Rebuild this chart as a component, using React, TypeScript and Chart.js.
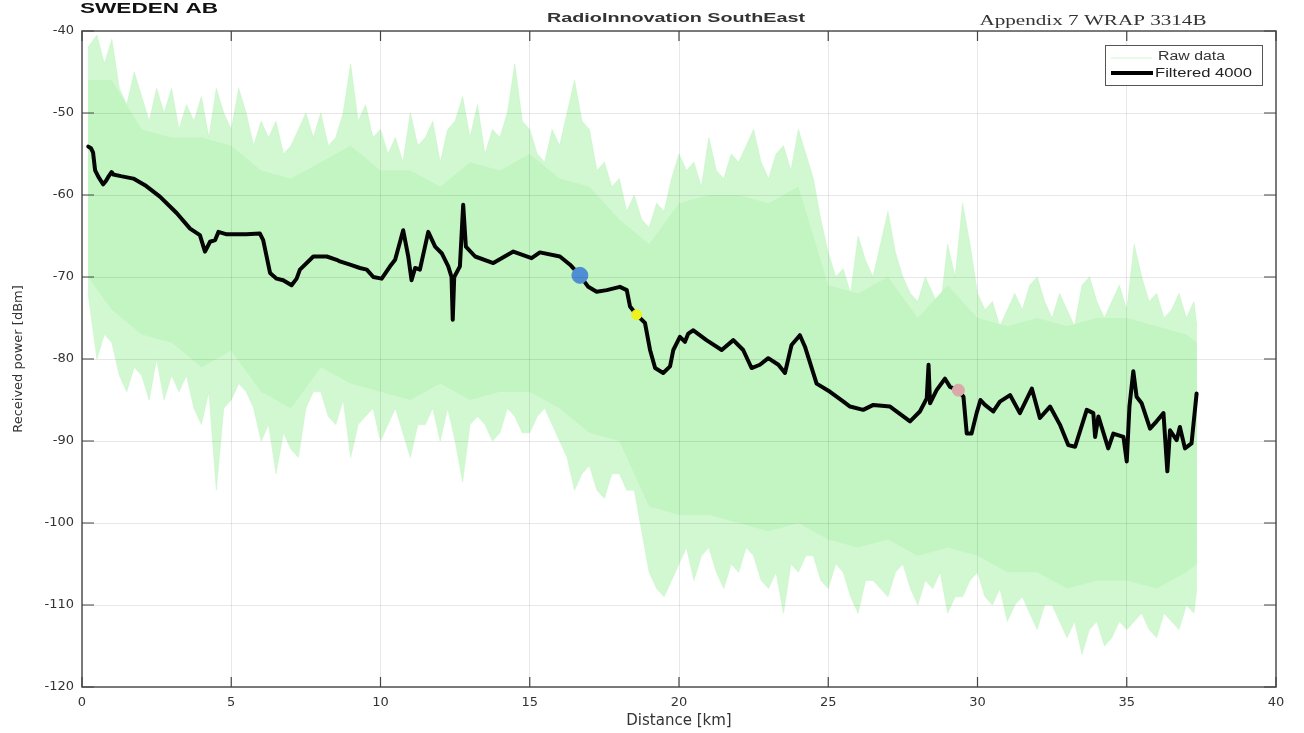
import React, { useEffect, useRef } from "react";
import { Chart, registerables } from "chart.js";

Chart.register(...registerables);

// ---- Axis ticks ----
const xTickValues = [0, 5, 10, 15, 20, 25, 30, 35, 40];
const yTickValues = [-120, -110, -100, -90, -80, -70, -60, -50, -40];

// ---- Raw data (outer spiky envelope) ----
const rawKm = [
  0.2, 0.5, 0.75, 1, 1.25, 1.5, 1.75, 2, 2.25, 2.5,
  2.75, 3, 3.25, 3.5, 3.75, 4, 4.25, 4.5, 4.75, 5,
  5.25, 5.5, 5.75, 6, 6.25, 6.5, 6.75, 7, 7.25, 7.5,
  7.75, 8, 8.25, 8.5, 8.75, 9, 9.25, 9.5, 9.75, 10,
  10.25, 10.5, 10.75, 11, 11.25, 11.5, 11.75, 12, 12.25, 12.5,
  12.75, 13, 13.25, 13.5, 13.75, 14, 14.25, 14.5, 14.75, 15,
  15.25, 15.5, 15.75, 16, 16.25, 16.5, 16.75, 17, 17.25, 17.5,
  17.75, 18, 18.25, 18.5, 18.75, 19, 19.25, 19.5, 19.75, 20,
  20.25, 20.5, 20.75, 21, 21.25, 21.5, 21.75, 22, 22.25, 22.5,
  22.75, 23, 23.25, 23.5, 23.75, 24, 24.25, 24.5, 24.75, 25,
  25.25, 25.5, 25.75, 26, 26.25, 26.5, 26.75, 27, 27.25, 27.5,
  27.75, 28, 28.25, 28.5, 28.75, 29, 29.25, 29.5, 29.75, 30,
  30.25, 30.5, 30.75, 31, 31.25, 31.5, 31.75, 32, 32.25, 32.5,
  32.75, 33, 33.25, 33.5, 33.75, 34, 34.25, 34.5, 34.75, 35,
  35.25, 35.5, 35.75, 36, 36.25, 36.5, 36.75, 37, 37.25, 37.35,
];
const rawUpper = [
  -42, -40.5, -44, -41, -47, -49, -45, -48, -51, -47,
  -50, -47, -52, -49, -51, -48, -53, -47, -50, -52,
  -47, -50, -54, -51, -53, -51, -55, -54, -52, -50,
  -53, -50, -54, -53, -50, -44, -51, -49, -53, -52,
  -55, -53, -56, -50, -54, -53, -51, -56, -52, -51,
  -48, -53, -49, -55, -52, -53, -50, -44, -51, -52,
  -55, -56, -52, -54, -50, -46, -51, -52, -57, -56,
  -59, -58, -62, -60, -63, -64, -61, -62, -58, -55,
  -57, -56, -59, -53, -57, -58, -55, -56, -54, -52,
  -56, -58, -55, -54, -57, -52, -55, -58, -63, -67,
  -70, -69, -72, -65, -68, -70, -66, -62, -67, -70,
  -72, -73, -70, -72, -74, -66, -70, -61, -66, -72,
  -74, -73, -76, -74, -72, -74, -71, -70, -73, -75,
  -72, -74, -76, -71, -70, -73, -75, -73, -71, -74,
  -66, -70, -73, -72, -75, -74, -72, -75, -73, -76,
];
const rawLower = [
  -72, -80, -77, -78, -82, -84, -81, -82, -85, -80,
  -85, -82, -84, -82, -86, -88, -84, -96, -86, -85,
  -83, -84, -86, -90, -88, -94, -89, -91, -92, -86,
  -84, -84, -87, -88, -85, -92, -88, -87, -86, -90,
  -88, -86, -89, -92, -88, -88, -86, -90, -86, -90,
  -95, -88, -87, -88, -90, -89, -86, -87, -89, -89,
  -87, -86, -88, -90, -92, -96, -94, -93, -96, -97,
  -94, -94, -96, -96, -101, -106, -108, -109, -107, -105,
  -103, -107, -104, -103, -106, -108, -105, -106, -103, -104,
  -107, -108, -106, -111, -105, -106, -104, -104, -107, -108,
  -105, -106, -109, -111, -107, -107, -108, -109, -106, -105,
  -108, -110, -107, -108, -106, -111, -109, -109, -107, -106,
  -109, -110, -108, -112, -110, -109, -111, -113, -110, -110,
  -112, -114, -112, -116, -113, -112, -115, -114, -112, -113,
  -112, -111, -113, -114, -111, -112, -113, -110, -111, -108,
];

// ---- Raw data (dense core) ----
const coreKm = [
  0.2, 1, 2, 3, 4, 5, 6, 7, 8, 9, 10, 11, 12, 13, 14, 15, 16, 17, 18, 19,
  20, 21, 22, 23, 24, 25, 26, 27, 28, 29, 30, 31, 32, 33, 34, 35, 36, 37, 37.35,
];
const coreUpper = [
  -46, -46, -52, -53, -53, -54, -57, -58, -56, -54, -57, -57, -59, -56, -57, -55, -58, -59, -63, -66,
  -61, -60, -60, -61, -59, -71, -72, -70, -75, -71, -75, -76, -75, -76, -75, -75, -76, -77, -78,
];
const coreLower = [
  -70, -74, -77, -78, -81, -79, -84, -86, -81, -83, -84, -85, -83, -85, -84, -84, -86, -89, -90, -98,
  -99, -99, -100, -101, -100, -102, -103, -102, -104, -103, -104, -106, -106, -108, -107, -107, -108, -106, -105,
];

// ---- Filtered 4000 ----
const filteredKm = [
  0.21, 0.3, 0.37, 0.44, 0.55, 0.71, 0.8, 0.88, 0.99, 1.05, 1.3, 1.72, 2.11, 2.61, 3.17, 3.62, 3.95, 4.12, 4.29, 4.46,
  4.57, 4.85, 5.5, 5.96, 6.07, 6.3, 6.52, 6.74, 7.02, 7.19, 7.3, 7.75, 8.2, 8.53, 8.64, 8.98, 9.31, 9.54, 9.76, 10.04,
  10.32, 10.49, 10.76, 10.93, 11.04, 11.16, 11.32, 11.6, 11.83, 12.05, 12.27, 12.38, 12.42, 12.47, 12.66, 12.77, 12.86, 13.17, 13.78, 14.45,
  15.06, 15.34, 16.01, 16.35, 16.68, 16.96, 17.24, 17.58, 18.02, 18.25, 18.36, 18.58, 18.86, 19.03, 19.2, 19.47, 19.7, 19.81, 20.03, 20.2,
  20.31, 20.48, 20.92, 21.43, 21.82, 22.15, 22.43, 22.71, 22.99, 23.33, 23.55, 23.77, 24.05, 24.22, 24.61, 25.06, 25.51, 25.73, 26.17, 26.51,
  27.07, 27.74, 28.07, 28.3, 28.36, 28.41, 28.63, 28.91, 29.08, 29.36, 29.53, 29.64, 29.8, 29.97, 30.1, 30.25, 30.53, 30.75, 31.09, 31.42,
  31.82, 32.09, 32.43, 32.76, 33.04, 33.27, 33.66, 33.88, 33.94, 34.05, 34.38, 34.55, 34.89, 35.0, 35.09, 35.22, 35.33, 35.5, 35.78, 36.0,
  36.23, 36.36, 36.45, 36.67, 36.78, 36.95, 37.17, 37.34,
];
const filteredDbm = [
  -54.1, -54.3, -54.8, -57.0, -57.8, -58.7, -58.3, -57.8, -57.2, -57.5, -57.7, -58.0, -58.8, -60.2, -62.2, -64.1, -64.9, -66.9, -65.7, -65.5,
  -64.5, -64.8, -64.8, -64.7, -65.5, -69.5, -70.2, -70.4, -71.0, -70.2, -69.1, -67.5, -67.5, -67.9, -68.1, -68.5, -68.9, -69.1, -70.0, -70.2,
  -68.7, -67.9, -64.3, -67.5, -70.4, -68.9, -69.1, -64.5, -66.3, -67.1, -68.7, -70.0, -75.2, -70.0, -68.7, -61.2, -66.3, -67.5, -68.3, -66.9,
  -67.7, -67.0, -67.5, -68.5, -69.8, -71.2, -71.8, -71.6, -71.2, -71.6, -73.6, -74.6, -75.6, -78.9, -81.1, -81.7, -80.9, -78.9, -77.3, -77.9,
  -76.9, -76.5, -77.7, -78.9, -77.7, -78.9, -81.1, -80.7, -79.9, -80.7, -81.7, -78.3, -77.1, -78.5, -83.0, -84.0, -85.2, -85.8, -86.2, -85.6,
  -85.8, -87.6, -86.4, -84.8, -80.7, -85.4, -83.8, -82.4, -83.4, -83.8, -84.6, -89.1, -89.1, -86.6, -85.0, -85.6, -86.4, -85.2, -84.4, -86.6,
  -83.6, -87.2, -85.8, -88.0, -90.5, -90.7, -86.2, -86.6, -89.5, -87.0, -90.9, -89.1, -89.5, -92.5, -85.8, -81.5, -84.6, -85.4, -88.5, -87.6,
  -86.6, -93.7, -88.7, -89.9, -88.3, -90.9, -90.3, -84.2,
];

// ---- Site markers ----
const markerKm = [16.68, 18.58, 29.36];
const markerDbm = [-69.8, -74.6, -83.8];
const markerColors = ["#4f8ed2", "#eef21e", "#dba9a9"];
const markerRadius = [8, 5, 6];

function stretchText(
  ctx: CanvasRenderingContext2D,
  text: string,
  x: number,
  y: number,
  width: number,
  font: string,
  color: string,
  align: "left" | "center"
) {
  ctx.save();
  ctx.font = font;
  ctx.fillStyle = color;
  ctx.textBaseline = "middle";
  ctx.textAlign = "left";
  const w = ctx.measureText(text).width;
  const s = width / w;
  const left = align === "center" ? x - width / 2 : x;
  ctx.translate(left, y);
  ctx.scale(s, 1);
  ctx.fillText(text, 0, 0);
  ctx.restore();
}

const decorPlugin = {
  id: "decor",
  afterDraw(chart: any) {
    const { ctx, chartArea: a, scales } = chart;
    const xs = scales.x;
    const ys = scales.y;
    ctx.save();
    ctx.strokeStyle = "#5c5c5c";
    ctx.lineWidth = 1.6;
    ctx.strokeRect(a.left, a.top, a.right - a.left, a.bottom - a.top);
    ctx.strokeStyle = "#444";
    ctx.lineWidth = 1.2;
    ctx.beginPath();
    xs.ticks.forEach((t: any) => {
      const px = xs.getPixelForValue(t.value);
      ctx.moveTo(px, a.bottom);
      ctx.lineTo(px, a.bottom - 10);
      ctx.moveTo(px, a.top);
      ctx.lineTo(px, a.top + 10);
    });
    ys.ticks.forEach((t: any) => {
      const py = ys.getPixelForValue(t.value);
      ctx.moveTo(a.left, py);
      ctx.lineTo(a.left + 12, py);
      ctx.moveTo(a.right, py);
      ctx.lineTo(a.right - 12, py);
    });
    ctx.stroke();

    // legend
    const lx = 1105, ly = 45, lw = 157, lh = 40;
    ctx.fillStyle = "#ffffff";
    ctx.fillRect(lx, ly, lw, lh);
    ctx.strokeStyle = "#555";
    ctx.lineWidth = 1;
    ctx.strokeRect(lx + 0.5, ly + 0.5, lw, lh);
    ctx.strokeStyle = "#d4f4d4";
    ctx.lineWidth = 1;
    ctx.beginPath();
    ctx.moveTo(1111, 58);
    ctx.lineTo(1152, 58);
    ctx.stroke();
    ctx.strokeStyle = "#000";
    ctx.lineWidth = 4;
    ctx.beginPath();
    ctx.moveTo(1111, 73);
    ctx.lineTo(1153, 73);
    ctx.stroke();
    stretchText(ctx, "Raw data", 1158, 57, 67, "12px 'Liberation Sans', Arial, sans-serif", "#333", "left");
    stretchText(ctx, "Filtered 4000", 1155, 74, 97, "12px 'Liberation Sans', Arial, sans-serif", "#222", "left");

    // headings
    stretchText(ctx, "SWEDEN AB", 80, 9, 138, "bold 15px 'Liberation Sans', Arial, sans-serif", "#111", "left");
    stretchText(ctx, "RadioInnovation SouthEast", 676, 18, 258, "bold 13px 'Liberation Sans', Arial, sans-serif", "#333", "center");
    stretchText(ctx, "Appendix 7 WRAP 3314B", 1093, 21, 227, "15px 'Liberation Serif', 'Times New Roman', serif", "#333", "center");
    ctx.restore();
  },
};

export default function App() {
  const canvasRef = useRef<HTMLCanvasElement | null>(null);

  useEffect(() => {
    if (!canvasRef.current) return;
    const toXY = (xs: number[], ys: number[]) => xs.map((x, i) => ({ x, y: ys[i] }));
    const chart = new Chart(canvasRef.current, {
      type: "line",
      data: {
        datasets: [
          {
            label: "Raw data outer upper",
            data: toXY(rawKm, rawUpper),
            borderColor: "rgba(185,242,185,0.6)",
            borderWidth: 0.7,
            backgroundColor: "rgba(198,246,198,0.8)",
            fill: "+1",
            pointRadius: 0,
            tension: 0,
            order: 4,
          },
          {
            label: "Raw data outer lower",
            data: toXY(rawKm, rawLower),
            borderColor: "rgba(185,242,185,0.6)",
            borderWidth: 0.7,
            fill: false,
            pointRadius: 0,
            tension: 0,
            order: 4,
          },
          {
            label: "Raw data",
            data: toXY(coreKm, coreUpper),
            borderColor: "rgba(0,0,0,0)",
            borderWidth: 0,
            backgroundColor: "#c2f5c2",
            fill: "+1",
            pointRadius: 0,
            tension: 0,
            order: 3,
          },
          {
            label: "Raw data core lower",
            data: toXY(coreKm, coreLower),
            borderColor: "rgba(0,0,0,0)",
            borderWidth: 0,
            fill: false,
            pointRadius: 0,
            tension: 0,
            order: 3,
          },
          {
            label: "Filtered 4000",
            data: toXY(filteredKm, filteredDbm),
            borderColor: "#050505",
            borderWidth: 4,
            borderJoinStyle: "round",
            borderCapStyle: "round",
            fill: false,
            pointRadius: 0,
            tension: 0,
            order: 2,
          },
          {
            label: "Sites",
            data: toXY(markerKm, markerDbm),
            showLine: false,
            pointRadius: markerRadius,
            pointBackgroundColor: markerColors,
            pointBorderColor: markerColors,
            pointBorderWidth: 1,
            order: 1,
          },
        ],
      },
      options: {
        animation: false,
        responsive: true,
        maintainAspectRatio: false,
        layout: { padding: { left: 0, top: 31, right: 28, bottom: 0 } },
        plugins: {
          legend: { display: false },
          tooltip: { enabled: false },
          title: { display: false },
        },
        scales: {
          x: {
            type: "linear",
            min: 0,
            max: 40,
            afterBuildTicks: (scale: any) => {
              scale.ticks = xTickValues.map((v) => ({ value: v }));
            },
            afterFit: (scale: any) => {
              scale.height = 46;
            },
            grid: { color: "rgba(0,0,0,0.09)", lineWidth: 1, drawTicks: false, z: 1 },
            border: { display: false },
            ticks: {
              padding: 8,
              color: "#333",
              font: { family: "'DejaVu Sans', sans-serif", size: 13 },
              maxRotation: 0,
            },
            title: {
              display: true,
              text: "Distance [km]",
              color: "#333",
              font: { family: "'DejaVu Sans', sans-serif", size: 15 },
              padding: { top: 0, bottom: 3 },
            },
          },
          y: {
            type: "linear",
            min: -120,
            max: -40,
            afterBuildTicks: (scale: any) => {
              scale.ticks = yTickValues.map((v) => ({ value: v }));
            },
            afterFit: (scale: any) => {
              scale.width = 82;
            },
            grid: { color: "rgba(0,0,0,0.09)", lineWidth: 1, drawTicks: false, z: 1 },
            border: { display: false },
            ticks: {
              padding: 8,
              color: "#333",
              font: { family: "'DejaVu Sans', sans-serif", size: 13 },
            },
            title: {
              display: true,
              text: "Received power [dBm]",
              color: "#333",
              font: { family: "'DejaVu Sans', sans-serif", size: 13 },
              padding: { top: 11, bottom: 0 },
            },
          },
        },
      },
      plugins: [decorPlugin],
    });
    return () => chart.destroy();
  }, []);

  return (
    <div style={{ position: "fixed", left: 0, top: 0, width: 1304, height: 733, background: "#fff" }}>
      <canvas ref={canvasRef} />
    </div>
  );
}
